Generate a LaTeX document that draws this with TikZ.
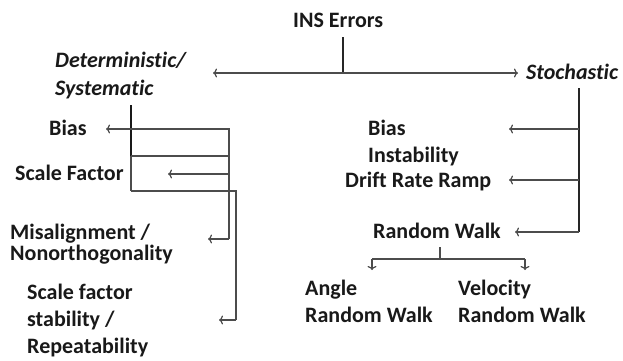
\documentclass[tikz,border=0pt]{standalone}
\usepackage{fontspec}
\setmainfont[Ligatures=NoCommon]{Carlito}
\usetikzlibrary{arrows.meta}
\begin{document}
\begin{tikzpicture}[x=1pt,y=-1pt,
  lbl/.style={font=\fontsize{22}{27}\selectfont\bfseries, inner sep=0pt, align=left, anchor=base west, text=black!90},
  ilbl/.style={lbl, font=\fontsize{22}{28}\selectfont\bfseries\itshape},
  conn/.style={draw=black!70, line width=1.2pt},
  arr/.style={conn, -{To[length=4pt,width=9pt]}}
]
\useasboundingbox (0,0) rectangle (623,360);
\fill[white] (0,0) rectangle (623,360);

% labels (anchor = baseline of the last line)
\node[lbl] (ins) at (293,27) {INS Errors};
\node[ilbl] (det) at (55,95) {Deterministic/\\Systematic};
\node[ilbl] (sto) at (526,79) {Stochastic};
\node[lbl] (bias) at (49,135) {Bias};
\node[lbl] (sf) at (15,180) {Scale Factor};
\node[lbl, font=\fontsize{22}{21}\selectfont\bfseries] (mis) at (10,260) {Misalignment /\\Nonorthogonality};
\node[lbl] (sfs) at (27,353) {Scale factor\\stability /\\Repeatability};
\node[lbl] (bi) at (368,162) {Bias\\Instability};
\node[lbl] (drr) at (345,187) {Drift Rate Ramp};
\node[lbl] (rw) at (373,238) {Random Walk};
\node[lbl] (arw) at (305,322) {Angle\\Random Walk};
\node[lbl] (vrw) at (458,322) {Velocity\\Random Walk};

% junction and tip coordinates
\coordinate (insb) at (343,37);
\coordinate (insj) at (343,73);
\coordinate (dett) at (213,73);
\coordinate (stot) at (518,73);

\coordinate (lt) at (131,105);
\coordinate (lb) at (131,191);
\coordinate (l1) at (131,129);
\coordinate (l2) at (131,156);
\coordinate (biast) at (106,129);
\coordinate (m1) at (229,129);
\coordinate (m2) at (229,156);
\coordinate (m3) at (229,174);
\coordinate (m4) at (229,239);
\coordinate (sft) at (168,174);
\coordinate (mist) at (208,239);
\coordinate (r1) at (236,191);
\coordinate (r2) at (236,320);
\coordinate (sfst) at (219,320);

\coordinate (st) at (579,88);
\coordinate (s1) at (579,129);
\coordinate (s2) at (579,180);
\coordinate (s3) at (579,232);
\coordinate (bit) at (509,129);
\coordinate (drrt) at (509,180);
\coordinate (rwt) at (515,232);

\coordinate (rwb) at (440,247);
\coordinate (rwj) at (440,259);
\coordinate (ja) at (372,259);
\coordinate (jv) at (525,259);
\coordinate (arwt) at (372,270);
\coordinate (vrwt) at (525,270);

% INS split
\draw[conn, draw=black!85] (insb) -- (insj);
\draw[arr] (insj) -- (dett);
\draw[arr] (insj) -- (stot);

% deterministic branch
\draw[conn, draw=black!90, line width=1.5pt] (lt) -- (l2);
\draw[conn] (l2) -- (lb);
\draw[arr] (l1) -- (biast);
\draw[conn] (l1) -- (m1) -- (m4);
\draw[conn] (l2) -- (m2);
\draw[arr] (m3) -- (sft);
\draw[arr] (m4) -- (mist);
\draw[conn] (lb) -- (r1) -- (r2);
\draw[arr] (r2) -- (sfst);

% stochastic branch
\draw[conn, draw=black!85] (st) -- (s3);
\draw[arr] (s1) -- (bit);
\draw[arr] (s2) -- (drrt);
\draw[arr] (s3) -- (rwt);

% random walk split
\draw[conn] (rwb) -- (rwj);
\draw[conn] (ja) -- (jv);
\draw[arr] (ja) -- (arwt);
\draw[arr] (jv) -- (vrwt);
\end{tikzpicture}
\end{document}
